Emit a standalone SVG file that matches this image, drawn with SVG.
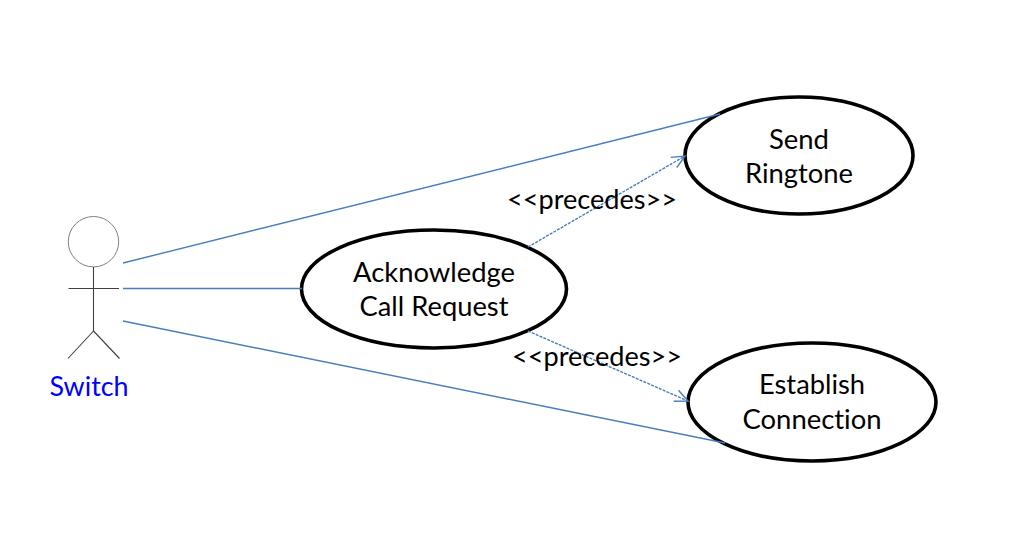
<svg xmlns="http://www.w3.org/2000/svg" width="1009" height="544" viewBox="0 0 1009 544">
<style>
text{font-family:"Lato","Liberation Sans",sans-serif;font-size:26px;fill:#000;text-anchor:middle;font-variant-ligatures:none}
.uc{fill:#fff;stroke:#000;stroke-width:3.6}
.act{fill:none;stroke:#404040;stroke-width:1.1}
.ln{fill:none;stroke:#4a7ebb;stroke-width:1.4}
.dash{stroke-dasharray:3 1.2;marker-end:url(#arr)}
</style>
<defs>
<marker id="arr" markerUnits="userSpaceOnUse" markerWidth="18" markerHeight="18" refX="15" refY="9" orient="auto">
<path d="M2 3L15 9L2 15" fill="none" stroke="#4a7ebb" stroke-width="1.4"/>
</marker>
</defs>
<rect width="1009" height="544" fill="#fff"/>
<g id="uc-acknowledge">
<ellipse class="uc" cx="434" cy="289" rx="132.500" ry="59"/>
<text x="434" y="281.500" textLength="162" lengthAdjust="spacingAndGlyphs">Acknowledge</text>
<text x="434" y="316" textLength="149" lengthAdjust="spacingAndGlyphs">Call Request</text>
</g>
<g id="uc-ringtone">
<ellipse class="uc" cx="799" cy="155.500" rx="114" ry="58.500"/>
<text x="799" y="149" textLength="60" lengthAdjust="spacingAndGlyphs">Send</text>
<text x="799" y="183" textLength="108" lengthAdjust="spacingAndGlyphs">Ringtone</text>
</g>
<g id="uc-establish">
<ellipse class="uc" cx="812" cy="402" rx="124" ry="59"/>
<text x="812" y="394" textLength="106" lengthAdjust="spacingAndGlyphs">Establish</text>
<text x="812" y="429" textLength="139" lengthAdjust="spacingAndGlyphs">Connection</text>
</g>
<g id="connectors">
<path class="ln" d="M123 263L720 114"/>
<path class="ln" d="M123 288.500H302"/>
<path class="ln" d="M123 321L725 443"/>
<path class="ln dash" d="M528 247L685 156"/>
<path class="ln dash" d="M528 331L688 401"/>
</g>
<g id="actor-switch">
<circle cx="93.500" cy="241.700" r="25.200" fill="#fff" stroke="#808080" stroke-width="1"/>
<path class="act" d="M93.500 267V331M68.500 288.500H119M93.500 331L68 358.500M93.500 331L119.500 358.500"/>
<text x="89" y="396" style="fill:#0000ff" textLength="79" lengthAdjust="spacingAndGlyphs">Switch</text>
</g>
<g id="labels">
<text x="592" y="209" textLength="170" lengthAdjust="spacingAndGlyphs">&lt;&lt;precedes&gt;&gt;</text>
<text x="597" y="366" textLength="170" lengthAdjust="spacingAndGlyphs">&lt;&lt;precedes&gt;&gt;</text>
</g>
</svg>
